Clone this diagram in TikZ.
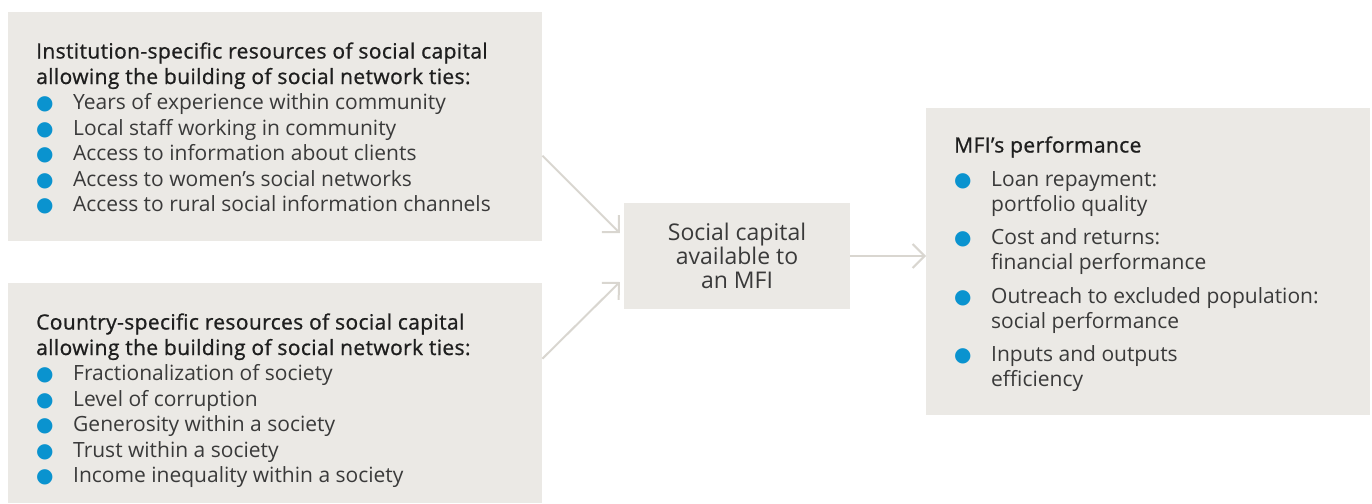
\documentclass[tikz,border=0pt]{standalone}
\usepackage{fontspec}
\setmainfont{Open Sans}
\newfontfamily\headfont{Open Sans}[FakeBold=0.9, LetterSpace=1.8]
\newfontfamily\dotfont{DejaVu Sans}
\usetikzlibrary{arrows.meta,positioning}

\definecolor{panelgray}{HTML}{EBE9E5}
\definecolor{linkgray}{HTML}{D9D6D0}
\definecolor{dotblue}{HTML}{0A93CF}
\definecolor{inkgray}{HTML}{3A3A3A}
\definecolor{headink}{HTML}{1E1E1E}

% one bullet line of a list
\newcommand{\dotitem}[1]{\makebox[37pt][l]{\fontsize{20}{20}\dotfont\color{dotblue}●}#1}
\newcommand{\listhead}[1]{{\headfont\color{headink}#1}}

\tikzset{panel/.style={fill=panelgray, inner sep=0pt, anchor=north west}}
\tikzset{listtext/.style={anchor=base west, inner sep=0pt, align=left, text=inkgray,
    font=\fontsize{21}{25.5}\selectfont}}
\tikzset{link/.style={draw=linkgray, line width=2pt, -{Straight Barb[length=12pt,width=24pt]}}}

\begin{document}
\begin{tikzpicture}[x=1pt, y=-1pt]
  \useasboundingbox (0,0) rectangle (1372,503);

  \node (inst) [panel, minimum width=534pt, minimum height=229pt] at (8,12) {};
  \node (cntry) [panel, minimum width=534pt, minimum height=220pt] at (8,283) {};
  \node (cap) [panel, anchor=center, minimum width=226pt, minimum height=106pt,
    align=center, text=inkgray, font=\fontsize{23}{24}\selectfont] at (737,256)
    {Social capital\\available to\\an MFI};
  \node (perf) [panel, minimum width=444pt, minimum height=307pt] at (926,108) {};

  % the base anchor sits on the last line of each list
  \node (insttxt) [listtext] at (36,211.5) {%
    \listhead{Institution-specific resources of social capital}\\
    \listhead{allowing the building of social network ties:}\\
    \dotitem{Years of experience within community}\\
    \dotitem{Local staff working in community}\\
    \dotitem{Access to information about clients}\\
    \dotitem{Access to women’s social networks}\\
    \dotitem{Access to rural social information channels}};

  \node (cntrytxt) [listtext] at (36,482.5) {%
    \listhead{Country-specific resources of social capital}\\
    \listhead{allowing the building of social network ties:}\\
    \dotitem{Fractionalization of society}\\
    \dotitem{Level of corruption}\\
    \dotitem{Generosity within a society}\\
    \dotitem{Trust within a society}\\
    \dotitem{Income inequality within a society}};

  \node (perftxt) [listtext, font=\fontsize{21}{25}\selectfont] at (954,386.5) {%
    \listhead{MFI’s performance}\\[8.5pt]
    \dotitem{Loan repayment:}\\
    \hspace*{37pt}portfolio quality\\[8.5pt]
    \dotitem{Cost and returns:}\\
    \hspace*{37pt}financial performance\\[8.5pt]
    \dotitem{Outreach to excluded population:}\\
    \hspace*{37pt}social performance\\[8.5pt]
    \dotitem{Inputs and outputs}\\
    \hspace*{37pt}efficiency};

  \coordinate (instout) at ([yshift=-29pt]inst.east);
  \coordinate (cntryout) at ([yshift=34.5pt]cntry.east);
  \coordinate (capin1) at ([xshift=-4pt,yshift=23pt]cap.west);
  \coordinate (capin2) at ([xshift=-4pt,yshift=-26pt]cap.west);

  \draw[link] (instout) -- (capin1);
  \draw[link] (cntryout) -- (capin2);
  \draw[link] (cap.east) -- (cap.east -| perf.west);
\end{tikzpicture}
\end{document}
